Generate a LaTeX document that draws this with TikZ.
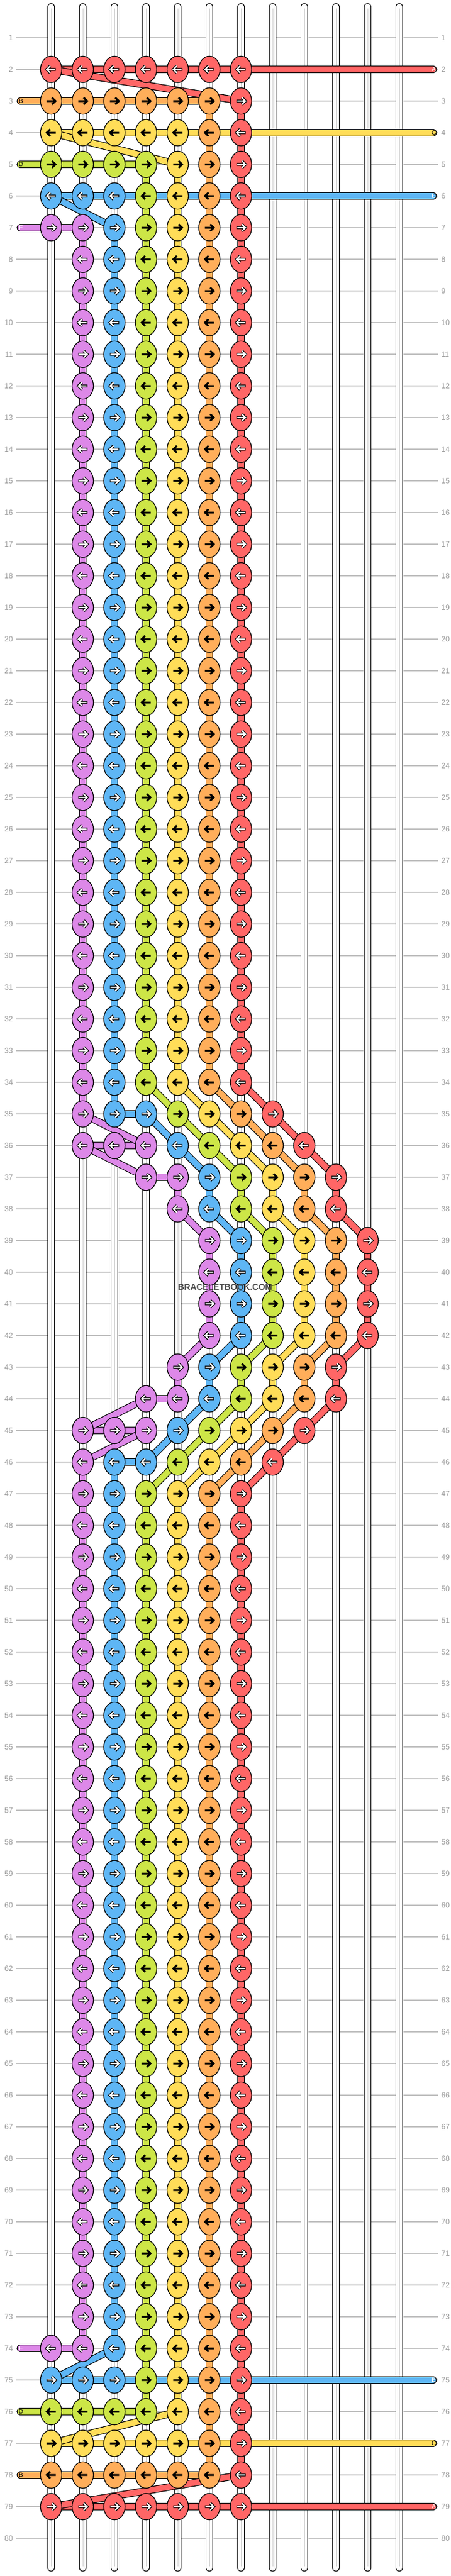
\documentclass[tikz,border=0pt]{standalone}
\usepackage{fontspec}
\setmainfont{Liberation Sans}
\definecolor{cR}{HTML}{FF6666}
\definecolor{cO}{HTML}{FFAE5A}
\definecolor{cY}{HTML}{FFDD58}
\definecolor{cG}{HTML}{CDE647}
\definecolor{cB}{HTML}{5EB6F5}
\definecolor{cP}{HTML}{DD88E8}
\definecolor{gridc}{HTML}{C2C2C2}
\definecolor{strc}{HTML}{CFCFCF}
\definecolor{labc}{HTML}{9A9A9A}
\def\Wmark{W}
\def\arrcolcR{W}\def\arrcolcB{W}\def\arrcolcP{W}
\def\arrcolcO{K}\def\arrcolcY{K}\def\arrcolcG{K}
\tikzset{
  labstyle/.style={font=\fontsize{12.5}{13}\selectfont, text=labc, inner sep=0pt},
  endlet/.style={font=\fontsize{10}{10}\selectfont, inner sep=0pt},
  knotshape/.style={draw=black, line width=1.2pt},
  arrowpath/.style={line join=miter, line cap=butt}
}
% a string segment with black outline
\newcommand\seg[3]{%
  \draw[line width=12pt, black, line cap=round] #2 -- #3;
  \draw[line width=9.6pt, color=#1, line cap=round] #2 -- #3;}
% one knot: col, row, colour
\newcommand\knot[3]{%
  \begin{scope}[shift={(#1,#2)}, x=1pt, y=1pt]
    \filldraw[knotshape, fill=#3] (0,0) ellipse [x radius=17.5pt, y radius=21.7pt];
    \ifodd#2\relax\def\adir{1}\else\def\adir{-1}\fi
    \begin{scope}[xscale=\adir]
      \expandafter\ifx\csname arrcol#3\endcsname\Wmark
        \draw[arrowpath, black, line width=4.6pt] (-7.5,0) -- (6.2,0) (1.4,5.6) -- (7.2,0) -- (1.4,-5.6);
        \draw[arrowpath, white, line width=2.2pt] (-6.4,0) -- (6.2,0) (1.4,5.6) -- (7.2,0) -- (1.4,-5.6);
      \else
        \draw[arrowpath, black, line width=3pt] (-7.5,0) -- (6.2,0) (1.4,5.6) -- (7.2,0) -- (1.4,-5.6);
      \fi
    \end{scope}
  \end{scope}}
% row of knots: row, first col, colours
\newcommand\krow[3]{\foreach \cl [count=\k from 0] in {#3} {\pgfmathtruncatemacro\cc{#2+\k}\knot{\cc}{#1}{\cl}}}
% vertical segments from row to row+1: row, first col, colours
\newcommand\vsegs[3]{\foreach \cl [count=\k from 0] in {#3} {\pgfmathtruncatemacro\cc{#2+\k}\pgfmathtruncatemacro\rr{#1+1}\seg{\cl}{(\cc,#1)}{(\cc,\rr)}}}
% diagonal segments: row, first col, column shift, colours
\newcommand\dsegs[4]{\foreach \cl [count=\k from 0] in {#4} {\pgfmathtruncatemacro\cc{#2+\k}\pgfmathtruncatemacro\cd{#2+\k+#3}\pgfmathtruncatemacro\rr{#1+1}\seg{\cl}{(\cc,#1)}{(\cd,\rr)}}}

\begin{document}
\begin{tikzpicture}[x=52pt, y=-52pt]
\useasboundingbox (-0.61538,-0.19231) rectangle (13.61538,81.19231);
\fill[white] (-0.61538,-0.19231) rectangle (13.61538,81.19231);

% grid lines and row numbers
\foreach \r in {1,...,80} {
  \draw[gridc, line width=1.2pt] (-0.115,\r) -- (13.23,\r);
  \node[labstyle, anchor=east] (L\r) at (-0.202,\r) {\r};
  \node[labstyle, anchor=west] (R\r) at (13.327,\r) {\r};
}

% white base strings
\foreach \c in {1,...,12} {
  \draw[black, line width=11.6pt, line cap=round] (\c,0.02) -- (\c,80.94);
  \draw[white, line width=9.2pt, line cap=round] (\c,0.02) -- (\c,80.94);
  \draw[strc, line width=0.9pt] (\c,0.08) -- (\c,80.88);
}

% vertical coloured segments
\vsegs{3}{6}{cO,cR}
\vsegs{4}{6}{cO,cR}
\vsegs{5}{4}{cG,cY,cO,cR}
\vsegs{6}{4}{cG,cY,cO,cR}
\foreach \r in {7,...,33} {\vsegs{\r}{2}{cP,cB,cG,cY,cO,cR}}
\vsegs{34}{2}{cP,cB}
\vsegs{37}{5}{cP,cB,cG,cY,cO,cR}
\foreach \r in {39,40,41} {\vsegs{\r}{6}{cP,cB,cG,cY,cO,cR}}
\vsegs{43}{5}{cP,cB,cG,cY,cO,cR}
\vsegs{46}{2}{cP,cB}
\foreach \r in {47,...,73} {\vsegs{\r}{2}{cP,cB,cG,cY,cO,cR}}
\vsegs{74}{4}{cG,cY,cO,cR}
\vsegs{75}{4}{cG,cY,cO,cR}
\vsegs{76}{6}{cO,cR}
\vsegs{77}{6}{cO,cR}

% horizontal bands
\seg{cR}{(1,2)}{(13.07,2)}
\seg{cO}{(0.03,3)}{(6,3)}
\seg{cY}{(1,4)}{(13.07,4)}
\seg{cG}{(0.03,5)}{(4,5)}
\seg{cB}{(1,6)}{(13.07,6)}
\seg{cP}{(0.03,7)}{(2,7)}
\seg{cB}{(3,35)}{(4,35)}
\seg{cP}{(2,36)}{(4,36)}
\seg{cP}{(4,37)}{(5,37)}
\seg{cP}{(4,44)}{(5,44)}
\seg{cP}{(2,45)}{(4,45)}
\seg{cB}{(3,46)}{(4,46)}
\seg{cP}{(0.03,74)}{(2,74)}
\seg{cB}{(1,75)}{(13.07,75)}
\seg{cG}{(0.03,76)}{(4,76)}
\seg{cY}{(1,77)}{(13.07,77)}
\seg{cO}{(0.03,78)}{(6,78)}
\seg{cR}{(1,79)}{(13.07,79)}

% diagonal bands
\seg{cR}{(1,2)}{(7,3)}
\seg{cY}{(1,4)}{(5,5)}
\seg{cB}{(1,6)}{(3,7)}
\dsegs{34}{4}{1}{cG,cY,cO,cR}
\seg{cP}{(2,35)}{(4,36)}
\dsegs{35}{4}{1}{cB,cG,cY,cO,cR}
\seg{cP}{(2,36)}{(4,37)}
\dsegs{36}{5}{1}{cB,cG,cY,cO,cR}
\dsegs{38}{5}{1}{cP,cB,cG,cY,cO,cR}
\dsegs{42}{6}{-1}{cP,cB,cG,cY,cO,cR}
\seg{cP}{(4,44)}{(2,45)}
\dsegs{44}{6}{-1}{cB,cG,cY,cO,cR}
\seg{cP}{(4,45)}{(2,46)}
\dsegs{45}{5}{-1}{cB,cG,cY,cO,cR}
\dsegs{46}{5}{-1}{cG,cY,cO,cR}
\seg{cB}{(3,74)}{(1,75)}
\seg{cY}{(5,76)}{(1,77)}
\seg{cR}{(7,78)}{(1,79)}

% end letters
\node[endlet, text=white] (eA1) at (13.09,2) {A};
\node[endlet, text=black] (eB1) at (0.048,3) {B};
\node[endlet, text=black] (eC1) at (13.09,4) {C};
\node[endlet, text=black] (eD1) at (0.048,5) {D};
\node[endlet, text=white] (eE1) at (13.09,6) {E};
\node[endlet, text=white] (eF1) at (0.048,7) {F};
\node[endlet, text=white] (eF2) at (0.048,74) {F};
\node[endlet, text=white] (eE2) at (13.09,75) {E};
\node[endlet, text=black] (eD2) at (0.048,76) {D};
\node[endlet, text=black] (eC2) at (13.09,77) {C};
\node[endlet, text=black] (eB2) at (0.048,78) {B};
\node[endlet, text=white] (eA2) at (13.09,79) {A};

% knots
\krow{2}{1}{cR,cR,cR,cR,cR,cR,cR}
\krow{3}{1}{cO,cO,cO,cO,cO,cO,cR}
\krow{4}{1}{cY,cY,cY,cY,cY,cO,cR}
\krow{5}{1}{cG,cG,cG,cG,cY,cO,cR}
\krow{6}{1}{cB,cB,cB,cG,cY,cO,cR}
\krow{7}{1}{cP,cP,cB,cG,cY,cO,cR}
\foreach \r in {8,...,34} {\krow{\r}{2}{cP,cB,cG,cY,cO,cR}}
\krow{35}{2}{cP,cB,cB,cG,cY,cO,cR}
\krow{36}{2}{cP,cP,cP,cB,cG,cY,cO,cR}
\krow{37}{4}{cP,cP,cB,cG,cY,cO,cR}
\krow{38}{5}{cP,cB,cG,cY,cO,cR}
\foreach \r in {39,...,42} {\krow{\r}{6}{cP,cB,cG,cY,cO,cR}}
\krow{43}{5}{cP,cB,cG,cY,cO,cR}
\krow{44}{4}{cP,cP,cB,cG,cY,cO,cR}
\krow{45}{2}{cP,cP,cP,cB,cG,cY,cO,cR}
\krow{46}{2}{cP,cB,cB,cG,cY,cO,cR}
\foreach \r in {47,...,73} {\krow{\r}{2}{cP,cB,cG,cY,cO,cR}}
\krow{74}{1}{cP,cP,cB,cG,cY,cO,cR}
\krow{75}{1}{cB,cB,cB,cG,cY,cO,cR}
\krow{76}{1}{cG,cG,cG,cG,cY,cO,cR}
\krow{77}{1}{cY,cY,cY,cY,cY,cO,cR}
\krow{78}{1}{cO,cO,cO,cO,cO,cO,cR}
\krow{79}{1}{cR,cR,cR,cR,cR,cR,cR}

% watermark
\node[font=\bfseries\fontsize{14}{14}\selectfont, text=black!80, opacity=0.9, inner sep=0pt] (wm) at (6.5,40.48) {BRACELETBOOK.COM};
\end{tikzpicture}
\end{document}
